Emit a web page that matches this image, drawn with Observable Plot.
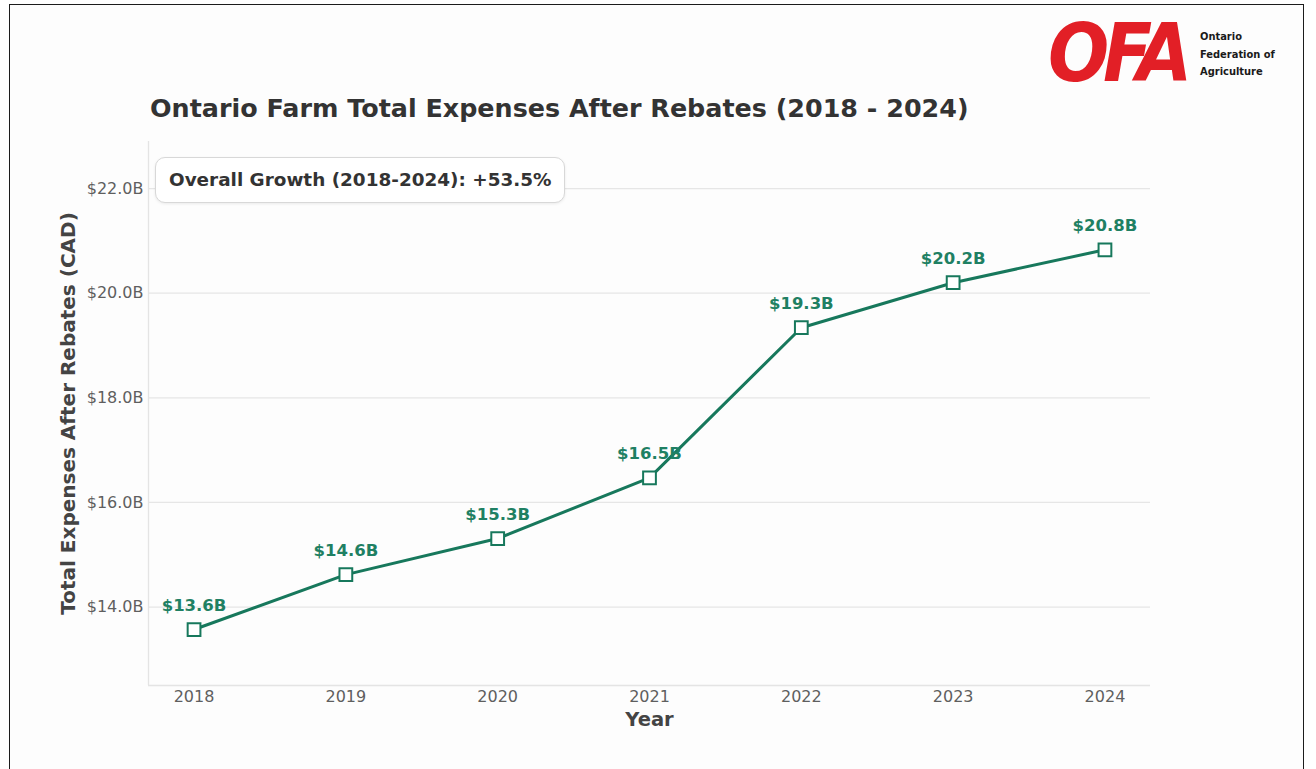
<!DOCTYPE html>
<html>
<head>
<meta charset="utf-8">
<script src="https://cdn.jsdelivr.net/npm/d3@7"></script>
<script src="https://cdn.jsdelivr.net/npm/@observablehq/plot@0.6"></script>
<style>
  html, body { margin: 0; padding: 0; background: #ffffff; }
  #page { position: relative; width: 1316px; height: 769px; overflow: hidden; font-family: "DejaVu Sans", sans-serif; }
  #sheet { position: absolute; left: 9px; top: 4px; width: 1295px; height: 820px; border: 1.5px solid #1c1c1c; background: #fdfdfd; box-sizing: border-box; }
  #logo { position: absolute; left: 1048px; top: 14px; height: 80px; width: 240px; }
  #logo .mark { position: absolute; left: 0; top: 0; font-family: "DejaVu Sans", sans-serif; font-weight: bold; font-style: italic; font-size: 80px; line-height: 80px; color: #e21f26; letter-spacing: -7px; transform: scaleX(0.9); transform-origin: left center; }
  #logo .name { position: absolute; left: 152px; top: 14px; font-family: "Liberation Sans Narrow", "DejaVu Sans Condensed", sans-serif; font-weight: bold; font-size: 11px; line-height: 17.5px; color: #1a1a1a; }
  #title { position: absolute; left: 150px; top: 92px; font-size: 25.4px; line-height: 32px; font-weight: bold; color: #333333; white-space: nowrap; }
  #chart { position: absolute; left: 0; top: 130px; }
  #growth { position: absolute; left: 155px; top: 157px; width: 410px; height: 46px; box-sizing: border-box; border: 1px solid #d8d8d8; border-radius: 10px; background: #ffffff; box-shadow: 0 1px 3px rgba(0,0,0,0.08); font-size: 18.4px; font-weight: bold; color: #333333; line-height: 44px; padding-left: 13px; white-space: nowrap; }
</style>
</head>
<body>
<div id="page">
  <div id="sheet"></div>
  <div id="logo">
    <div class="mark">OFA</div>
    <div class="name">Ontario<br>Federation of<br>Agriculture</div>
  </div>
  <div id="title">Ontario Farm Total Expenses After Rebates (2018 - 2024)</div>
  <div id="chart"></div>
  <div id="growth"></div>
</div>
<script>
// Ontario farm total expenses after rebates, billions of CAD
const years = [2018, 2019, 2020, 2021, 2022, 2023, 2024];
const expenses = [13.57, 14.62, 15.31, 16.47, 19.34, 20.2, 20.83];

// axis ticks
const yTicks = [14, 16, 18, 20, 22];
const xDomain = [2017.7, 2024.3];
const yDomain = [12.5, 22.9];

const teal = "#17785c";
const rows = years.map((year, i) => ({year, value: expenses[i]}));
const fmt = v => `$${v.toFixed(1)}B`;

const growth = (expenses[expenses.length - 1] / expenses[0] - 1) * 100;
document.getElementById("growth").textContent =
  `Overall Growth (${years[0]}-${years[years.length - 1]}): +${growth.toFixed(1)}%`;

const chart = Plot.plot({
  width: 1316,
  height: 630,
  marginLeft: 148,
  marginRight: 166,
  marginTop: 11,
  marginBottom: 75,
  style: {fontFamily: "DejaVu Sans, sans-serif", fontSize: "16px", color: "#5f5f5f", background: "transparent"},
  x: {domain: xDomain, label: null},
  y: {domain: yDomain, label: null},
  marks: [
    Plot.gridY(yTicks, {stroke: "#e6e6e6", strokeOpacity: 1, strokeWidth: 1.3}),
    Plot.ruleX([xDomain[0]], {stroke: "#e4e4e4", strokeWidth: 1.3}),
    Plot.ruleY([yDomain[0]], {stroke: "#e4e4e4", strokeWidth: 1.3}),
    Plot.axisY({ticks: yTicks, tickFormat: fmt, tickSize: 0, tickPadding: 5, label: null, fontSize: 16, fill: "#5f5f5f"}),
    Plot.axisX({ticks: years, tickFormat: d => String(d), tickSize: 0, tickPadding: 5, label: null, fontSize: 16, fill: "#5f5f5f"}),
    Plot.text(["Year"], {frameAnchor: "bottom", dy: 40, fontSize: 19.5, fontWeight: "bold", fill: "#444444"}),
    Plot.text(["Total Expenses After Rebates (CAD)"], {frameAnchor: "left", textAnchor: "middle", rotate: -90, dx: -80, fontSize: 20, fontWeight: "bold", fill: "#444444"}),
    Plot.line(rows, {x: "year", y: "value", stroke: teal, strokeWidth: 3}),
    Plot.dot(rows, {x: "year", y: "value", symbol: "square", r: 7.2, fill: "#ffffff", stroke: teal, strokeWidth: 2}),
    Plot.text(rows, {x: "year", y: "value", text: d => fmt(d.value), dy: -24, fontSize: 16.5, fontWeight: "bold", fill: "#1f8063"})
  ]
});
document.getElementById("chart").appendChild(chart);
</script>
</body>
</html>
